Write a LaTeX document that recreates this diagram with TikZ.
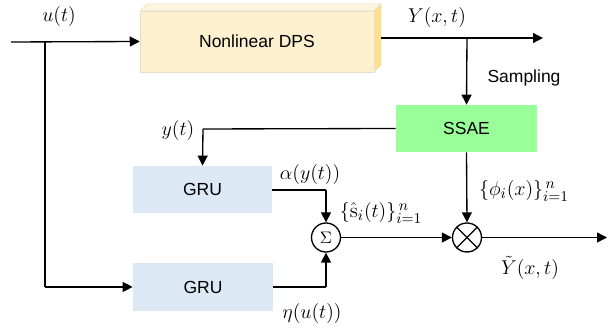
\documentclass[tikz,border=0pt]{standalone}
\usepackage{amsmath,amssymb}
\usepackage{fontspec}
\newfontfamily\boxfont{Liberation Sans}
\usetikzlibrary{arrows.meta}

\definecolor{dpsfront}{HTML}{FCF0CE}
\definecolor{dpstop}{HTML}{FDF5E0}
\definecolor{dpsside}{HTML}{FFE08C}
\definecolor{dpsedge}{HTML}{E8DFC6}
\definecolor{ssaegreen}{HTML}{99FF99}
\definecolor{grublue}{HTML}{DCE8F4}

\tikzset{
  block/.style={inner sep=0pt,font=\boxfont\fontsize{10.5}{12}\selectfont},
  opnode/.style={circle,draw,line width=0.8pt,minimum size=17.4pt,inner sep=0pt},
  sig/.style={line width=0.8pt,-{Triangle[length=6pt,width=6pt]}},
  wire/.style={line width=0.8pt},
  lbl/.style={font=\fontsize{12.5}{14}\selectfont,inner sep=0.5pt}
}

\begin{document}
\begin{tikzpicture}[x=0.6pt,y=-0.6pt]
\useasboundingbox (0,0) rectangle (614,329);

% plant
\fill[dpstop,draw=dpsedge,line width=0.3pt] (140,11) -- (147,4) -- (381,4) -- (374,11) -- cycle;
\fill[dpsside,draw=dpsedge,line width=0.3pt] (374,11) -- (381,4) -- (381,65) -- (374,72) -- cycle;
\node[block,fill=dpsfront,draw=dpsedge,line width=0.3pt,minimum width=140.4pt,minimum height=36.6pt] (dps) at (257,41.5) {Nonlinear DPS};

% encoder and the two GRUs
\node[block,fill=ssaegreen,minimum width=84.6pt,minimum height=28.2pt] (ssae) at (466.5,128.5) {SSAE};
\node[block,fill=grublue,minimum width=83.4pt,minimum height=28.2pt] (gru1) at (202.5,189.5) {GRU};
\node[block,fill=grublue,minimum width=84pt,minimum height=28.8pt] (gru2) at (203,287) {GRU};

\node[opnode] (sum) at (326,237.5) {$\Sigma$};
\node[opnode] (prod) at (467,237.5) {};
\draw[wire] (prod.north west) -- (prod.south east);
\draw[wire] (prod.north east) -- (prod.south west);

\coordinate (in) at (11,42);
\coordinate (split) at (45,42);
\coordinate (ucorner) at (45,287);
\coordinate (dpsout) at (381,38);
\coordinate (ysplit) at (467,38);
\coordinate (yend) at (543,38);
\coordinate (ycorner) at (203,129);
\coordinate (acorner) at (326,190);
\coordinate (ecorner) at (326,287);
\coordinate (out) at (607,237.5);

\draw[sig] (in) -- (dps.west);
\draw[wire] (split) -- (ucorner);
\draw[sig] (ucorner) -- (gru2.west);
\draw[sig] (dpsout) -- (yend);
\draw[sig] (ysplit) -- (ssae.north);
\draw[wire] (ssae.west) -- (ycorner);
\draw[sig] (ycorner) -- (gru1.north);
\draw[wire] (gru1.east |- acorner) -- (acorner);
\draw[sig] (acorner) -- (sum.north);
\draw[wire] (gru2.east) -- (ecorner);
\draw[sig] (ecorner) -- (sum.south);
\draw[sig] (sum.east) -- (prod.west);
\draw[sig] (ssae.south) -- (prod.north);
\draw[sig] (prod.east) -- (out);

% labels
\node[lbl] (ulbl) at (59,17) {$u(t)$};
\node[lbl] (ylbl) at (437,18) {$Y(x,t)$};
\node[block] (samp) at (524,78) {Sampling};
\node[lbl] (ytlbl) at (178,131) {$y(t)$};
\node[lbl] (albl) at (310,175) {$\alpha(y(t))$};
\node[lbl] (elbl) at (312,314) {$\eta(u(t))$};
\node[lbl] (slbl) at (381,213) {$\{\hat{\mathrm{s}}_i(t)\}_{i=1}^{\,n}$};
\node[lbl] (plbl) at (524,191) {$\{\phi_i(x)\}_{i=1}^{\,n}$};
\node[lbl] (yhlbl) at (530,268) {$\tilde{Y}(x,t)$};
\end{tikzpicture}
\end{document}
